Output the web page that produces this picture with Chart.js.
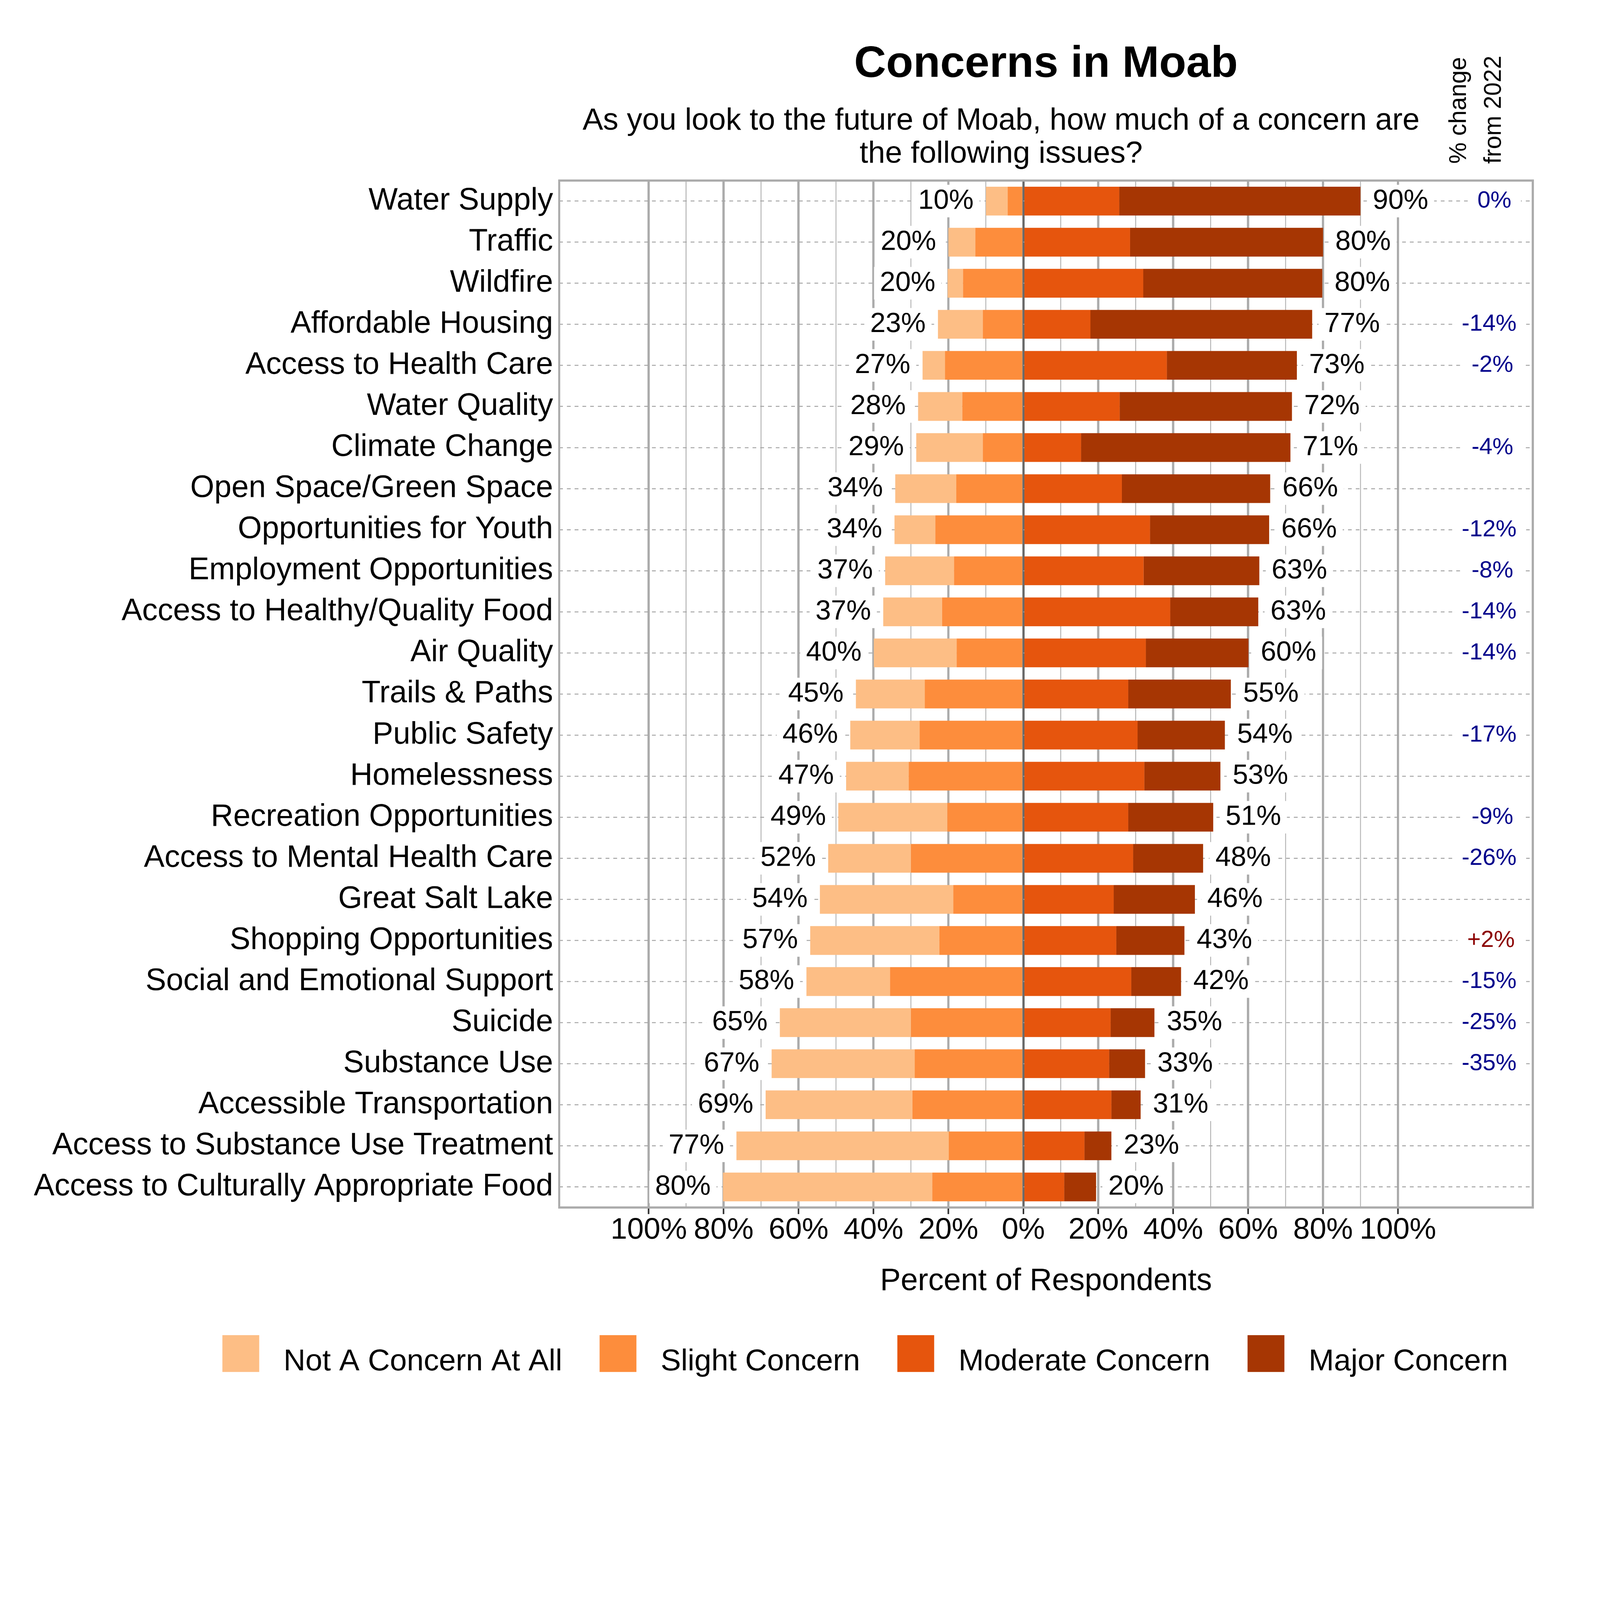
<!DOCTYPE html>
<html>
<head>
<meta charset="utf-8">
<title>Concerns in Moab</title>
<script src="https://cdn.jsdelivr.net/npm/chart.js@4.4.1/dist/chart.umd.min.js"></script>
<style>
  html, body { margin: 0; padding: 0; background: #fff; overflow: hidden; }
  canvas { display: block; transform-origin: 0 0; }
</style>
</head>
<body>
<canvas id="chart" width="6000" height="5400" style="width:6000px;height:5400px"></canvas>
<script>
// survey items, top to bottom
const categories = [
  'Water Supply', 'Traffic', 'Wildfire', 'Affordable Housing', 'Access to Health Care',
  'Water Quality', 'Climate Change', 'Open Space/Green Space', 'Opportunities for Youth',
  'Employment Opportunities', 'Access to Healthy/Quality Food', 'Air Quality', 'Trails & Paths',
  'Public Safety', 'Homelessness', 'Recreation Opportunities', 'Access to Mental Health Care',
  'Great Salt Lake', 'Shopping Opportunities', 'Social and Emotional Support', 'Suicide',
  'Substance Use', 'Accessible Transportation', 'Access to Substance Use Treatment',
  'Access to Culturally Appropriate Food'
]

// percent of respondents per answer
const notConcern = [5.8, 7.2, 4.1, 12.0, 6.0, 11.8, 17.8, 16.3, 10.9, 18.4, 15.7, 22.1, 18.4, 18.5, 16.7, 29.1, 22.1, 35.6, 34.5, 22.3, 35.0, 38.2, 39.2, 56.7, 55.9]
const slightConcern = [4.2, 12.8, 16.1, 10.8, 20.9, 16.3, 10.8, 17.9, 23.5, 18.5, 21.7, 17.8, 26.3, 27.7, 30.6, 20.3, 30.0, 18.7, 22.4, 35.6, 30.0, 29.0, 29.6, 19.9, 24.3]
const moderateConcern = [25.6, 28.5, 32.0, 17.9, 38.3, 25.7, 15.4, 26.3, 33.8, 32.1, 39.2, 32.7, 28.0, 30.5, 32.3, 28.0, 29.3, 24.1, 24.8, 28.8, 23.3, 22.9, 23.5, 16.3, 10.9]
const majorConcern = [64.4, 51.5, 47.8, 59.2, 34.7, 46.0, 55.9, 39.6, 31.8, 30.9, 23.5, 27.4, 27.4, 23.3, 20.3, 22.7, 18.7, 21.7, 18.2, 13.3, 11.7, 9.6, 7.8, 7.2, 8.5]

// printed totals on each side of the bars
const leftTotals = [10, 20, 20, 23, 27, 28, 29, 34, 34, 37, 37, 40, 45, 46, 47, 49, 52, 54, 57, 58, 65, 67, 69, 77, 80]
const rightTotals = [90, 80, 80, 77, 73, 72, 71, 66, 66, 63, 63, 60, 55, 54, 53, 51, 48, 46, 43, 42, 35, 33, 31, 23, 20]

// % change from 2022 (null = no value shown)
const changeFrom2022 = [0, null, null, -14, -2, null, -4, null, -12, -8, -14, -14, null, -17, null, -9, -26, null, 2, -15, -25, -35, null, null, null]

const xTickValues = [-100, -90, -80, -70, -60, -50, -40, -30, -20, -10, 0, 10, 20, 30, 40, 50, 60, 70, 80, 90, 100]

// the chart is laid out at 6000x5400; shrink it if the window is smaller
const canvas = document.getElementById('chart')
const fit = Math.min(1, window.innerWidth / 6000, window.innerHeight / 5400)
canvas.style.transform = 'scale(' + fit + ')'

const FONT = "'Liberation Sans', Arial, Helvetica, sans-serif"
Chart.defaults.font.family = FONT
Chart.defaults.color = '#000'

const legendItems = [
    { label: 'Not A Concern At All', color: '#FDBE85' },
    { label: 'Slight Concern', color: '#FD8D3C' },
    { label: 'Moderate Concern', color: '#E6550D' },
    { label: 'Major Concern', color: '#A63603' },
]

function whiteBox(ctx, x, y, w, h) {
    ctx.fillStyle = '#fff'
    ctx.fillRect(x, y, w, h)
}

const overlay = {
    id: 'overlay',
    afterDatasetsDraw(chart) {
        const ctx = chart.ctx
        const leftMeta = chart.getDatasetMeta(1)   // outer left segment
        const rightMeta = chart.getDatasetMeta(3)  // outer right segment
        const changeX = chart.scales.x.getPixelForValue(128)
        ctx.save()
        ctx.textBaseline = 'middle'
        categories.forEach((cat, i) => {
            const lb = leftMeta.data[i]
            const rb = rightMeta.data[i]
            ctx.font = '104px ' + FONT

            const lt = leftTotals[i] + '%'
            const lw = ctx.measureText(lt).width
            const lx = lb.x - 46
            whiteBox(ctx, lx - lw - 22, lb.y - 61, lw + 44, 122)
            ctx.fillStyle = '#000'
            ctx.textAlign = 'right'
            ctx.fillText(lt, lx, lb.y)

            const rt = rightTotals[i] + '%'
            const rw = ctx.measureText(rt).width
            const rx = rb.x + 46
            whiteBox(ctx, rx - 22, rb.y - 61, rw + 44, 122)
            ctx.fillStyle = '#000'
            ctx.textAlign = 'left'
            ctx.fillText(rt, rx, rb.y)

            const ch = changeFrom2022[i]
            if (ch !== null) {
                const txt = (ch > 0 ? '+' : '') + ch + '%'
                ctx.font = '88px ' + FONT
                const cw = ctx.measureText(txt).width
                const cx = changeX - 0.75 * cw
                whiteBox(ctx, cx - 36, rb.y - 61, cw + 72, 122)
                ctx.fillStyle = ch > 0 ? '#8B0000' : '#00008B'
                ctx.textAlign = 'left'
                ctx.fillText(txt, cx, rb.y)
            }
        })
        ctx.restore()
    },
    afterDraw(chart) {
        const ctx = chart.ctx
        const area = chart.chartArea
        ctx.save()

        // panel border
        ctx.strokeStyle = '#ABABAB'
        ctx.lineWidth = 8
        ctx.strokeRect(area.left, area.top, area.right - area.left, area.bottom - area.top)

        // title + subtitle
        ctx.fillStyle = '#000'
        ctx.textAlign = 'center'
        ctx.textBaseline = 'alphabetic'
        ctx.font = 'bold 166px ' + FONT
        ctx.fillText('Concerns in Moab', (area.left + area.right) / 2, 288)
        ctx.font = '115px ' + FONT
        ctx.fillText('As you look to the future of Moab, how much of a concern are', 3754, 486)
        ctx.fillText('the following issues?', 3754, 610)

        // rotated column header
        ctx.font = '90px ' + FONT
        ctx.textAlign = 'left'
        ;[['% change', 5497], ['from 2022', 5628]].forEach(([t, bx]) => {
            ctx.save()
            ctx.translate(bx, 614)
            ctx.rotate(-Math.PI / 2)
            ctx.fillText(t, 0, 0)
            ctx.restore()
        })

        // legend
        ctx.font = '114px ' + FONT
        let lx = 834
        legendItems.forEach(item => {
            ctx.fillStyle = item.color
            ctx.fillRect(lx, 5007, 138, 138)
            ctx.fillStyle = '#000'
            ctx.fillText(item.label, lx + 138 + 91, 5139)
            lx += 138 + 91 + ctx.measureText(item.label).width + 140
        })
        ctx.restore()
    }
}

const isMajor = v => v % 20 === 0

new Chart(canvas.getContext('2d'), {
    type: 'bar',
    data: {
        labels: categories,
        datasets: [
            // left side stacks outward from 0: slight first, then not-a-concern
            { label: 'Slight Concern', data: slightConcern.map(v => -v), backgroundColor: '#FD8D3C' },
            { label: 'Not A Concern At All', data: notConcern.map(v => -v), backgroundColor: '#FDBE85' },
            { label: 'Moderate Concern', data: moderateConcern, backgroundColor: '#E6550D' },
            { label: 'Major Concern', data: majorConcern, backgroundColor: '#A63603' },
        ]
    },
    options: {
        indexAxis: 'y',
        responsive: false,
        animation: false,
        devicePixelRatio: 1,
        layout: { padding: { top: 677, right: 252, bottom: 522, left: 0 } },
        datasets: { bar: { barPercentage: 0.7, categoryPercentage: 1.0, borderWidth: 0 } },
        scales: {
            x: {
                stacked: true,
                min: -123.9,
                max: 136,
                afterBuildTicks: scale => { scale.ticks = xTickValues.map(v => ({ value: v })) },
                afterFit: scale => { scale.height = 350 },
                border: { display: false },
                grid: {
                    color: c => !c.tick ? '#ABABAB' : (c.tick.value === 0 ? '#696969' : (isMajor(c.tick.value) ? '#ABABAB' : '#B5B5B5')),
                    lineWidth: c => !c.tick ? 0 : (c.tick.value === 0 ? 8 : (isMajor(c.tick.value) ? 8.5 : 3.5)),
                    drawTicks: true,
                    tickLength: 25,
                    tickColor: c => (c.tick && isMajor(c.tick.value)) ? '#333333' : 'rgba(0,0,0,0)',
                    tickWidth: 6,
                },
                ticks: {
                    autoSkip: false,
                    maxRotation: 0,
                    padding: 0,
                    font: { size: 112, lineHeight: 1.1 },
                    color: '#000',
                    callback: v => isMajor(v) ? Math.abs(v) + '%' : '',
                },
                title: {
                    display: true,
                    text: 'Percent of Respondents',
                    font: { size: 116, lineHeight: 1.2 },
                    color: '#000',
                    padding: { top: 0, bottom: 2 },
                },
            },
            y: {
                stacked: true,
                afterFit: scale => { scale.width = 2097 },
                border: { display: false, dash: [14, 15] },
                grid: { offset: false, color: '#A3A3A3', lineWidth: 3.5, drawTicks: false },
                ticks: { font: { size: 116 }, color: '#000', padding: 23 },
            },
        },
        plugins: {
            legend: { display: false },
            tooltip: { enabled: false },
        },
    },
    plugins: [overlay]
})
</script>
</body>
</html>
